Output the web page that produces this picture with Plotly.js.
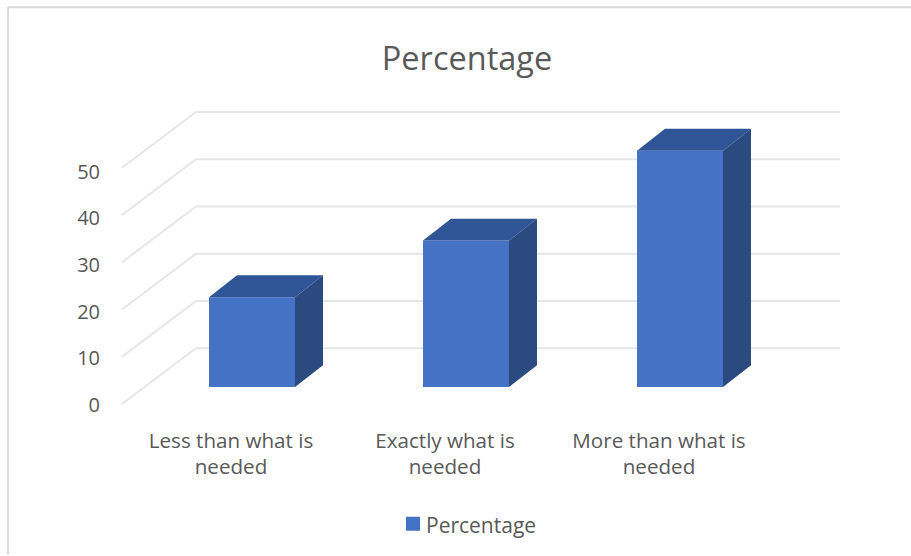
<!DOCTYPE html>
<html>
<head>
<meta charset="utf-8">
<script src="https://cdn.plot.ly/plotly-3.0.1.min.js"></script>
<style>html,body{margin:0;padding:0;background:#fff;overflow:hidden}</style>
</head>
<body>
<div id="chart" style="width:911px;height:556px"></div>
<script>
const categories = ["Less than what is<br>needed", "Exactly what is<br>needed", "More than what is<br>needed"];
const percentages = [19, 31, 50];
const yTicks = [0, 10, 20, 30, 40, 50];
const seriesName = "Percentage";

// pixel frame of the plot area
const W = 911, H = 556, L = 112, R = 860, T = 80, B = 420;
const stepX = 214, scaleY = 4.74, labelScaleY = 4.68, originY = 388;
const rangeX = o => [(L - o) / stepX, (R - o) / stepX];
const rangeY = (o, s) => [(o - B) / s, (o - T) / s];

// oblique depth
const barW = 86 / stepX, barDx = 28 / stepX, barDy = 22 / scaleY;
const wallFrontX = (122 - 252) / stepX, wallBackX = (196 - 252) / stepX, wallEndX = (840 - 252) / stepX;
const wallFrontY = -17 / scaleY, wallBackY = 39 / scaleY;

const grey = "#595959", font = "'Open Sans', sans-serif";
const idx = categories.map((_, i) => i);
const traces = [];

// carrier for the label axes
traces.push({type: "scatter", mode: "none", x: idx, y: idx.map(() => 0), xaxis: "x", yaxis: "y",
  showlegend: false, hoverinfo: "skip"});

// gridlines on the walls
yTicks.forEach(v => {
  traces.push({type: "scatter", mode: "lines", xaxis: "x2", yaxis: "y2", showlegend: false, hoverinfo: "skip",
    x: [wallFrontX, wallBackX, wallEndX],
    y: [wallFrontY + v, wallBackY + v, wallBackY + v],
    line: {color: "#e6e6e6", width: 2}});
});

// front faces
traces.push({type: "bar", name: seriesName, x: idx, y: percentages, width: barW, xaxis: "x3", yaxis: "y3",
  marker: {color: "#4472c4", line: {width: 0}}, showlegend: true});

// top and side faces
idx.forEach(i => {
  const l = i - barW / 2, r = i + barW / 2, v = percentages[i];
  traces.push({type: "scatter", mode: "lines", fill: "toself", fillcolor: "#2f5597", xaxis: "x3", yaxis: "y3",
    line: {width: 0, color: "#2f5597"}, showlegend: false, hoverinfo: "skip",
    x: [l, l + barDx, r + barDx, r, l], y: [v, v + barDy, v + barDy, v, v]});
  traces.push({type: "scatter", mode: "lines", fill: "toself", fillcolor: "#2a4a80", xaxis: "x3", yaxis: "y3",
    line: {width: 0, color: "#2a4a80"}, showlegend: false, hoverinfo: "skip",
    x: [r, r + barDx, r + barDx, r, r], y: [0, barDy, v + barDy, v, 0]});
});

const hidden = {visible: false, showgrid: false, zeroline: false, fixedrange: true};
const paperX = px => (px - L) / (R - L), paperY = py => (B - py) / (B - T);

const layout = {
  width: W, height: H,
  paper_bgcolor: "#fff", plot_bgcolor: "rgba(0,0,0,0)",
  margin: {l: L, r: W - R, t: T, b: H - B, pad: 0},
  font: {family: font, color: grey, size: 20},
  title: {text: "Percentage", x: 467 / W, xanchor: "center", y: 1 - 59 / H, yanchor: "middle", yref: "container",
    font: {family: font, size: 32.5, color: grey}},
  barmode: "overlay",
  xaxis: {range: rangeX(231), tickmode: "array", tickvals: idx, ticktext: categories, showgrid: false, zeroline: false,
    showline: false, ticks: "", ticklabelstandoff: 7, fixedrange: true, tickfont: {family: font, size: 20.6, color: grey}},
  yaxis: {range: rangeY(406, labelScaleY), tickmode: "array", tickvals: yTicks, showgrid: false, zeroline: false,
    showline: false, ticks: "outside", ticklen: 7, tickcolor: "rgba(0,0,0,0)", fixedrange: true,
    tickfont: {family: font, size: 20, color: grey}},
  xaxis2: Object.assign({range: rangeX(252), overlaying: "x"}, hidden),
  yaxis2: Object.assign({range: rangeY(originY, scaleY), overlaying: "y"}, hidden),
  xaxis3: Object.assign({range: rangeX(252), overlaying: "x"}, hidden),
  yaxis3: Object.assign({range: rangeY(originY, scaleY), overlaying: "y"}, hidden),
  showlegend: true,
  legend: {x: paperX(386), xanchor: "left", y: paperY(525), yanchor: "middle", orientation: "h", itemwidth: 30,
    bgcolor: "rgba(0,0,0,0)", font: {family: font, size: 21, color: grey}},
  shapes: [
    {type: "line", xref: "paper", yref: "paper", x0: paperX(8), x1: paperX(8), y0: paperY(7), y1: paperY(556),
      line: {color: "#d9d9d9", width: 2}, layer: "below"},
    {type: "line", xref: "paper", yref: "paper", x0: paperX(8), x1: paperX(911), y0: paperY(7), y1: paperY(7),
      line: {color: "#d9d9d9", width: 2}, layer: "below"}
  ]
};

Plotly.newPlot("chart", traces, layout, {displayModeBar: false, staticPlot: true}).then(() => {
  // enlarge the legend swatch and close the gap to its label, as in the reference
  const sym = document.querySelector(".legend .legendpoints path");
  if (sym) {
    const cur = sym.getAttribute("transform") || "";
    sym.setAttribute("transform", "translate(7,-1) " + cur + " scale(1.17)");
  }
});
</script>
</body>
</html>
